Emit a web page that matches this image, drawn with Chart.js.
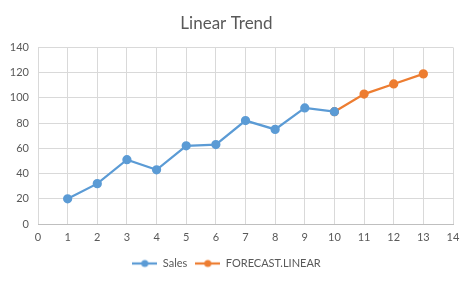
<!DOCTYPE html>
<html>
<head>
<meta charset="utf-8">
<script src="https://cdn.jsdelivr.net/npm/chart.js@4"></script>
<style>
  html, body { margin: 0; padding: 0; background: #fff; }
  #wrap { width: 474px; height: 284px; }
</style>
</head>
<body>
<div id="wrap"><canvas id="chart" width="474" height="284"></canvas></div>
<script>
const salesX = [1, 2, 3, 4, 5, 6, 7, 8, 9, 10];
const salesY = [20, 32, 51, 43, 62, 63, 82, 75, 92, 89];
const forecastX = [10, 11, 12, 13];
const forecastY = [89, 103, 111, 119];
const xTicks = [0, 14, 1];   // min, max, step
const yTicks = [0, 140, 20];

const BLUE = '#5B9BD5';
const ORANGE = '#ED7D31';
const TEXT = '#595959';
const FONT = 'Lato, "Open Sans", sans-serif';

function toPoints(xs, ys) {
  return xs.map((x, i) => ({ x: x, y: ys[i] }));
}

// legend marker: short line with a dot in the middle, like Excel
function legendMarker(color) {
  const c = document.createElement('canvas');
  c.width = 25;
  c.height = 10;
  const ctx = c.getContext('2d');
  ctx.strokeStyle = color;
  ctx.lineWidth = 2.25;
  ctx.beginPath();
  ctx.moveTo(0, 5);
  ctx.lineTo(25, 5);
  ctx.stroke();
  ctx.fillStyle = color;
  ctx.beginPath();
  ctx.arc(12.5, 5, 3.5, 0, Math.PI * 2);
  ctx.fill();
  return c;
}

const markers = [legendMarker(BLUE), legendMarker(ORANGE)];

new Chart(document.getElementById('chart'), {
  type: 'scatter',
  data: {
    datasets: [
      {
        label: 'Sales',
        data: toPoints(salesX, salesY),
        showLine: true,
        borderColor: BLUE,
        backgroundColor: BLUE,
        borderWidth: 2.25,
        pointRadius: 3.5,
        pointHoverRadius: 3.5,
      },
      {
        label: 'FORECAST.LINEAR',
        data: toPoints(forecastX, forecastY),
        showLine: true,
        borderColor: ORANGE,
        backgroundColor: ORANGE,
        borderWidth: 2.25,
        pointRadius: 3.5,
        pointHoverRadius: 3.5,
      },
    ],
  },
  options: {
    responsive: false,
    animation: false,
    layout: { padding: { left: 0, right: 21, top: 0, bottom: 5 } },
    plugins: {
      tooltip: { enabled: false },
      title: {
        display: true,
        text: 'Linear Trend',
        color: TEXT,
        font: { family: FONT, size: 17, weight: 'normal' },
        padding: { top: 13, bottom: 14 },
      },
      legend: {
        position: 'bottom',
        labels: {
          color: TEXT,
          font: { family: FONT, size: 11 },
          boxWidth: 25,
          boxHeight: 10,
          pointStyleWidth: 25,
          padding: 8,
          usePointStyle: true,
          generateLabels: (chart) => chart.data.datasets.map((ds, i) => ({
            text: ds.label,
            fontColor: TEXT,
            pointStyle: markers[i],
            datasetIndex: i,
            lineWidth: 0,
          })),
        },
      },
    },
    scales: {
      x: {
        type: 'linear',
        min: xTicks[0],
        max: xTicks[1],
        ticks: {
          stepSize: xTicks[2],
          color: TEXT,
          font: { family: FONT, size: 11 },
          padding: 7,
        },
        grid: { color: '#d9d9d9', drawTicks: false },
        border: { color: '#bfbfbf' },
        afterFit: (scale) => { scale.height = 26; },
      },
      y: {
        min: yTicks[0],
        max: yTicks[1],
        ticks: {
          stepSize: yTicks[2],
          color: TEXT,
          font: { family: FONT, size: 11 },
          padding: 9,
        },
        grid: { color: '#d9d9d9', drawTicks: false },
        border: { display: false },
        afterFit: (scale) => { scale.width = 38; },
      },
    },
  },
});
</script>
</body>
</html>
